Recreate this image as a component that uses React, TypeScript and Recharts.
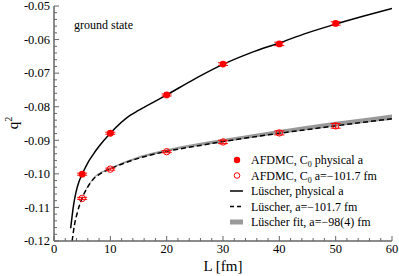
import React from 'react';
import {
  ComposedChart,
  XAxis,
  YAxis,
  Line,
  Area,
  Scatter,
  ErrorBar,
  Customized,
} from 'recharts';

// AFDMC results, C0 with physical scattering length
const afdmcPhysical = [
  { L: 5, q: -0.1001, err: 0.0003 },
  { L: 10, q: -0.0879, err: 0.0003 },
  { L: 20, q: -0.0765, err: 0.0003 },
  { L: 30, q: -0.0673, err: 0.0004 },
  { L: 40, q: -0.0613, err: 0.0005 },
  { L: 50, q: -0.0552, err: 0.0005 },
];

// AFDMC results, C0 with a = -101.7 fm
const afdmcTuned = [
  { L: 5, q: -0.1073, err: 0.0003 },
  { L: 10, q: -0.0986, err: 0.0003 },
  { L: 20, q: -0.0934, err: 0.0003 },
  { L: 30, q: -0.0905, err: 0.0005 },
  { L: 40, q: -0.0878, err: 0.0006 },
  { L: 50, q: -0.0857, err: 0.0007 },
];

const luscherPhysical = [
  { L: 2.96, q: -0.1162 },
  { L: 3.5, q: -0.1090 },
  { L: 3.9, q: -0.1055 },
  { L: 4.4, q: -0.1025 },
  { L: 5, q: -0.1001 },
  { L: 6, q: -0.0967 },
  { L: 7, q: -0.0941 },
  { L: 8, q: -0.0918 },
  { L: 10, q: -0.0879 },
  { L: 13.5, q: -0.0826 },
  { L: 15, q: -0.0811 },
  { L: 20, q: -0.0765 },
  { L: 25, q: -0.0717 },
  { L: 30, q: -0.0674 },
  { L: 35, q: -0.0639 },
  { L: 40, q: -0.0610 },
  { L: 45, q: -0.0580 },
  { L: 50, q: -0.0554 },
  { L: 55, q: -0.0530 },
  { L: 60, q: -0.0507 },
];

const luscherTuned = [
  { L: 3.22, q: -0.12 },
  { L: 3.6, q: -0.1155 },
  { L: 4.1, q: -0.1118 },
  { L: 5, q: -0.1072 },
  { L: 6, q: -0.1039 },
  { L: 7, q: -0.1015 },
  { L: 8, q: -0.1002 },
  { L: 10, q: -0.0985 },
  { L: 14, q: -0.0959 },
  { L: 20, q: -0.0933 },
  { L: 25, q: -0.0918 },
  { L: 30, q: -0.0904 },
  { L: 35, q: -0.0891 },
  { L: 40, q: -0.0879 },
  { L: 45, q: -0.0868 },
  { L: 50, q: -0.0857 },
  { L: 55, q: -0.0846 },
  { L: 60, q: -0.0836 },
];

// Lüscher fit band, [low, high]
const luscherFit = [
  { L: 4.1, band: [-0.1119, -0.1117] },
  { L: 5, band: [-0.1073, -0.1070] },
  { L: 7, band: [-0.1016, -0.1012] },
  { L: 10, band: [-0.0986, -0.0982] },
  { L: 14, band: [-0.0960, -0.0954] },
  { L: 20, band: [-0.0934, -0.0927] },
  { L: 30, band: [-0.0906, -0.0896] },
  { L: 40, band: [-0.0881, -0.0869] },
  { L: 50, band: [-0.0859, -0.0845] },
  { L: 60, band: [-0.0839, -0.0823] },
];

const xMajor = [0, 10, 20, 30, 40, 50, 60];
const yMajor = [-0.12, -0.11, -0.1, -0.09, -0.08, -0.07, -0.06, -0.05];
const xAll = Array.from({ length: 31 }, (_, i) => i * 2);
const yAll = Array.from({ length: 36 }, (_, i) => +(-0.12 + i * 0.002).toFixed(3));

const FONT = '"Liberation Serif", "Times New Roman", serif';
const AXIS = '#666';

const isMajorX = (v: number) => xMajor.includes(v);
const isMajorY = (v: number) => yMajor.some((m) => Math.abs(m - v) < 1e-9);

const BottomTick = ({ x, y, payload }: any) => {
  const major = isMajorX(payload.value);
  return (
    <g>
      <line x1={x} x2={x} y1={y} y2={y - (major ? 5 : 3)} stroke={AXIS} strokeWidth={1} />
      {major && (
        <text x={x} y={y + 12} textAnchor="middle" fontFamily={FONT} fontSize={12.5} fill="#000">
          {payload.value}
        </text>
      )}
    </g>
  );
};

const TopTick = ({ x, y, payload }: any) => {
  const major = isMajorX(payload.value);
  return <line x1={x} x2={x} y1={y} y2={y + (major ? 5 : 3)} stroke={AXIS} strokeWidth={1} />;
};

const LeftTick = ({ x, y, payload }: any) => {
  const major = isMajorY(payload.value);
  return (
    <g>
      <line x1={x} x2={x + (major ? 5 : 3)} y1={y} y2={y} stroke={AXIS} strokeWidth={1} />
      {major && (
        <text x={x - 4} y={y + 4.3} textAnchor="end" fontFamily={FONT} fontSize={12.5} fill="#000">
          {payload.value.toFixed(2)}
        </text>
      )}
    </g>
  );
};

const RightTick = ({ x, y, payload }: any) => {
  const major = isMajorY(payload.value);
  return <line x1={x} x2={x - (major ? 5 : 3)} y1={y} y2={y} stroke={AXIS} strokeWidth={1} />;
};

const FilledDot = ({ cx, cy }: any) => <circle cx={cx} cy={cy} r={3.4} fill="#ff0000" />;
const OpenDot = ({ cx, cy }: any) => (
  <circle cx={cx} cy={cy} r={3.2} fill="none" stroke="#ff0000" strokeWidth={1} />
);

const Annotations = () => {
  const rows = [160, 175.5, 191, 206.5, 222];
  const tx = 251;
  const t = { fontFamily: FONT, fontSize: 12, fill: '#000' };
  return (
    <g>
      <text x={74} y={29} {...t}>ground state</text>
      <text x={223} y={271} textAnchor="middle" fontFamily={FONT} fontSize={15} fill="#000">
        L [fm]
      </text>
      <text transform="translate(18,123) rotate(-90)" textAnchor="middle" fontFamily={FONT} fontSize={15} fill="#000">
        q<tspan dy={-6} fontSize={10}>2</tspan>
      </text>

      <circle cx={237} cy={rows[0]} r={3.2} fill="#ff0000" />
      <text x={tx} y={rows[0] + 4} {...t}>
        AFDMC, C<tspan dy={3} fontSize={8}>0</tspan>
        <tspan dy={-3}> physical a</tspan>
      </text>

      <circle cx={237} cy={rows[1]} r={2.8} fill="none" stroke="#ff0000" strokeWidth={1} />
      <text x={tx} y={rows[1] + 4} {...t}>
        AFDMC, C<tspan dy={3} fontSize={8}>0</tspan>
        <tspan dy={-3}> a=−101.7 fm</tspan>
      </text>

      <line x1={230} x2={243} y1={rows[2]} y2={rows[2]} stroke="#000" strokeWidth={1.5} />
      <text x={tx} y={rows[2] + 4} {...t}>Lüscher, physical a</text>

      <line x1={230} x2={243} y1={rows[3]} y2={rows[3]} stroke="#000" strokeWidth={1.5} strokeDasharray="4 3" />
      <text x={tx} y={rows[3] + 4} {...t}>Lüscher, a=−101.7 fm</text>

      <rect x={230} y={rows[4] - 2.5} width={13} height={5} fill="#999" />
      <text x={tx} y={rows[4] + 4} {...t}>Lüscher fit, a=−98(4) fm</text>
    </g>
  );
};

export default function App() {
  return (
    <div style={{ position: 'absolute', left: 0, top: 0, background: '#fff' }}>
      <ComposedChart width={399} height={276} margin={{ top: 6, right: 7, bottom: 0, left: 0 }}>
        <XAxis
          dataKey="L"
          type="number"
          domain={[0, 60]}
          ticks={xAll}
          interval={0}
          allowDataOverflow
          height={35}
          tickSize={0}
          tickMargin={0}
          tickLine={false}
          tick={<BottomTick />}
          axisLine={{ stroke: AXIS, strokeWidth: 1.5 }}
        />
        <XAxis
          xAxisId="top"
          orientation="top"
          type="number"
          domain={[0, 60]}
          ticks={xAll}
          interval={0}
          height={0}
          tickSize={0}
          tickMargin={0}
          tickLine={false}
          tick={<TopTick />}
          axisLine={{ stroke: AXIS, strokeWidth: 1.5 }}
        />
        <YAxis
          type="number"
          domain={[-0.12, -0.05]}
          ticks={yAll}
          interval={0}
          allowDataOverflow
          width={54}
          tickSize={0}
          tickMargin={0}
          tickLine={false}
          tick={<LeftTick />}
          axisLine={{ stroke: AXIS, strokeWidth: 1.5 }}
        />
        <YAxis
          yAxisId="right"
          orientation="right"
          type="number"
          domain={[-0.12, -0.05]}
          ticks={yAll}
          interval={0}
          width={0}
          tickSize={0}
          tickMargin={0}
          tickLine={false}
          tick={<RightTick />}
          axisLine={{ stroke: AXIS, strokeWidth: 1.5 }}
        />

        <Area
          data={luscherFit}
          dataKey="band"
          type="monotone"
          stroke="none"
          fill="#999"
          fillOpacity={1}
          isAnimationActive={false}
        />
        <Line
          data={luscherTuned}
          dataKey="q"
          type="monotone"
          stroke="#000"
          strokeWidth={1.5}
          strokeDasharray="5 3"
          dot={false}
          isAnimationActive={false}
        />
        <Line
          data={luscherPhysical}
          dataKey="q"
          type="monotone"
          stroke="#000"
          strokeWidth={1.5}
          dot={false}
          isAnimationActive={false}
        />
        <Scatter data={afdmcPhysical} dataKey="q" shape={<FilledDot />} isAnimationActive={false}>
          <ErrorBar dataKey="err" direction="y" width={5} stroke="#ff0000" strokeWidth={1} />
        </Scatter>
        <Scatter data={afdmcTuned} dataKey="q" shape={<OpenDot />} isAnimationActive={false}>
          <ErrorBar dataKey="err" direction="y" width={5} stroke="#ff0000" strokeWidth={1} />
        </Scatter>
        <Customized component={<Annotations />} />
      </ComposedChart>
    </div>
  );
}
